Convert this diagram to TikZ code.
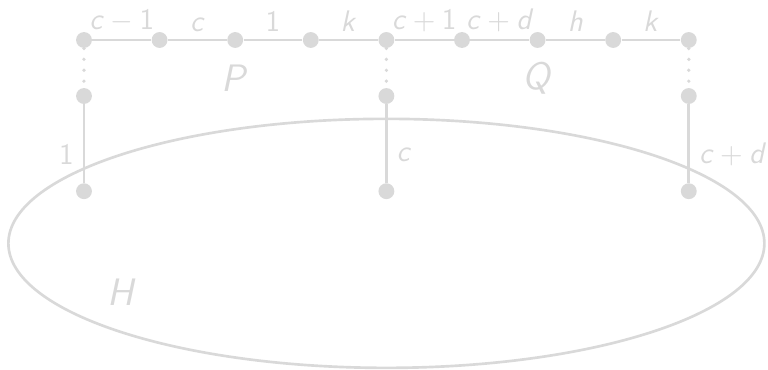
\documentclass[tikz,border=0pt]{standalone}
\usepackage{amsmath}
\usepackage{tikz}

\newcommand{\vi}[1]{\textit{#1}}

\begin{document}
\begin{tikzpicture}[x=1cm,y=1cm,
  vert/.style={circle,fill=gray!30,inner sep=0pt,minimum size=2.1mm},
  edge/.style={gray!30,line width=1.1pt},
  lbl/.style={text=gray!30,font=\sffamily\fontsize{11.2}{13}\selectfont},
  big/.style={text=gray!30,font=\sffamily\Large}]
\useasboundingbox (-1.111,-4.365) rectangle (9.048,0.529);

% the graph H
\draw[edge,line width=1pt] (4,-2.69) ellipse [x radius=5, y radius=1.647];
\node[big] (H) at (0.5,-3.33) {\vi{H}};

% top path
\foreach \i in {0,...,8}
  \node[vert] (p\i) at (\i,0) {};
\foreach \i/\j/\lab in {0/1/{\vi{c}${}-{}$1},1/2/{\vi{c}},2/3/1,3/4/{\vi{k}},
                        4/5/{\vi{c}${}+{}$1},5/6/{\vi{c}${}+{}$\vi{d}},6/7/{\vi{h}},7/8/{\vi{k}}}
  \draw[edge] (p\i) -- node[lbl,above,inner sep=2.5pt] {\lab} (p\j);

\node[big] (P) at (2,-0.5) {\vi{P}};
\node[big] (Q) at (6,-0.5) {\vi{Q}};

% legs down into H
\foreach \i/\lab/\side in {0/1/left,4/{\vi{c}}/right,8/{\vi{c}${}+{}$\vi{d}}/right} {
  \node[vert] (s\i) at (\i,-0.741) {};
  \node[vert] (h\i) at (\i,-2) {};
  \draw[edge,line width=1.4pt,line cap=round,dash pattern=on 0pt off 4.1pt] (p\i) -- (s\i);
  \draw[edge] (s\i) -- node[lbl,\side,pos=0.64] {\lab} (h\i);
}
\end{tikzpicture}
\end{document}
